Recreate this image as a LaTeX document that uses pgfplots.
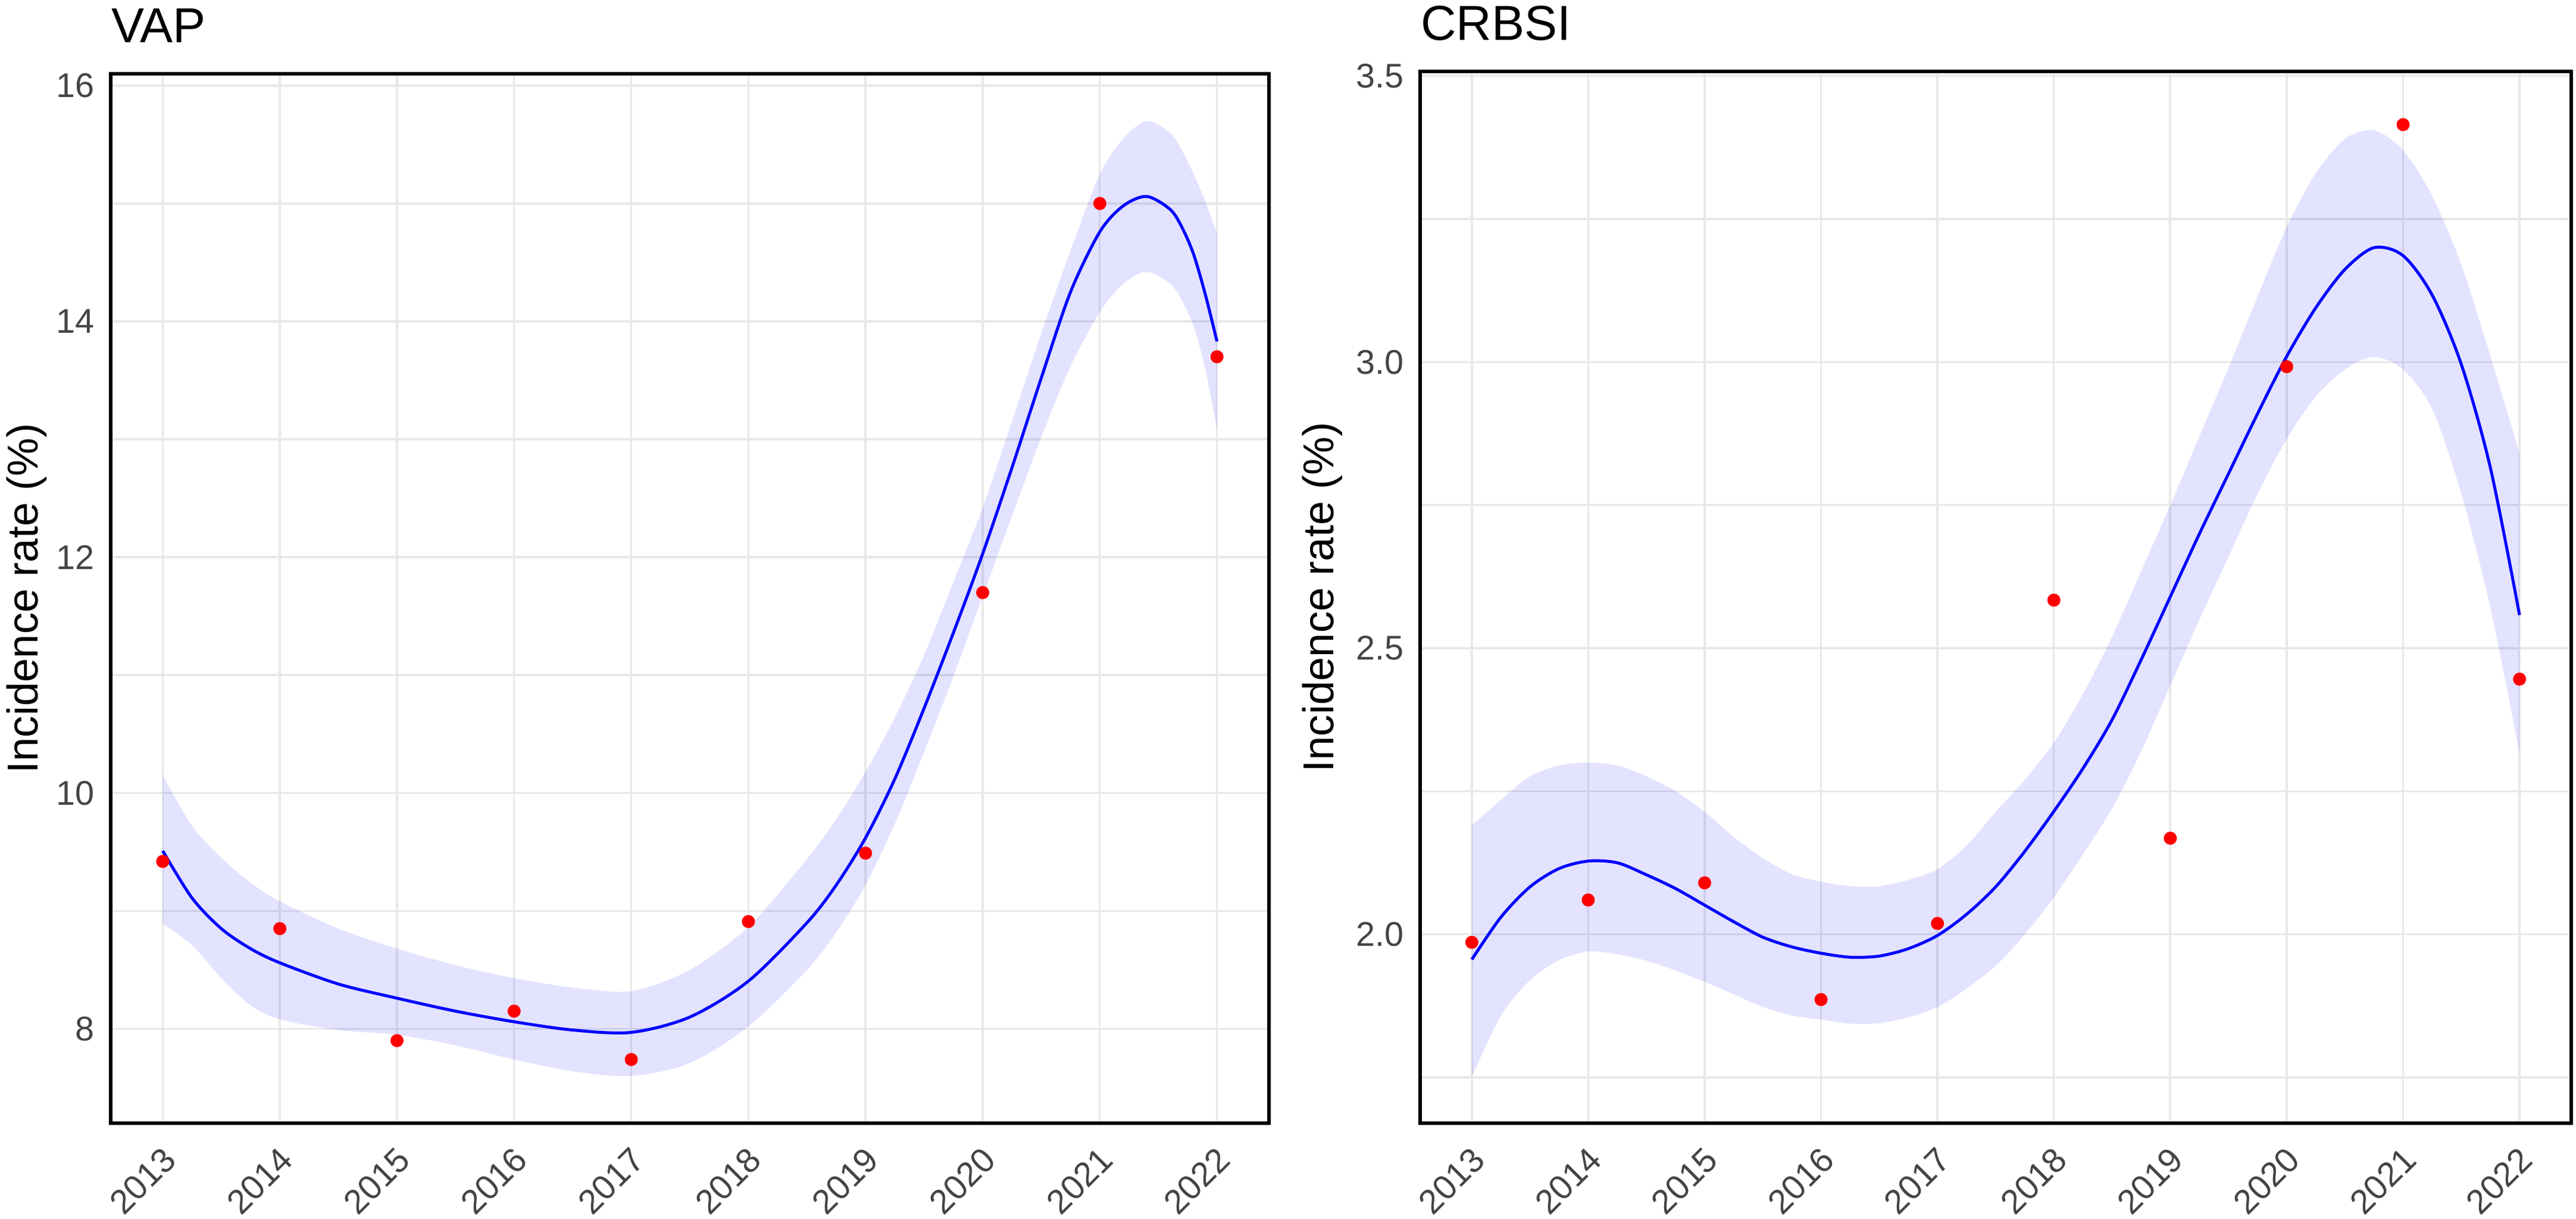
\documentclass[border=0pt]{standalone}
\usepackage{pgfplots}
\pgfplotsset{compat=1.18}
\usepackage{pgfplotstable}
\usepgfplotslibrary{fillbetween}
\usepackage{fontspec}
\setmainfont{Liberation Sans}

\pgfplotstableread{
x fit lo hi
2013 9.51 8.89 10.15
2013.25 9.11 8.71 9.72
2013.5 8.85 8.43 9.45
2013.75 8.68 8.20 9.24
2014 8.56 8.08 9.08
2014.5 8.38 7.99 8.85
2015 8.26 7.95 8.68
2015.5 8.15 7.86 8.54
2016 8.06 7.74 8.43
2016.5 7.99 7.64 8.35
2017 7.97 7.60 8.32
2017.5 8.10 7.71 8.50
2018 8.405 8.02 8.865
2018.5 8.90 8.50 9.44
2018.75 9.22 8.82 9.78
2019 9.62 9.22 10.18
2019.25 10.12 9.74 10.64
2019.5 10.72 10.35 11.17
2019.75 11.36 10.99 11.79
2020 12.03 11.67 12.42
2020.25 12.76 12.35 13.15
2020.5 13.52 13.02 13.90
2020.75 14.25 13.62 14.60
2021 14.76 14.08 15.25
2021.2 14.98 14.32 15.55
2021.4 15.06 14.42 15.70
2021.6 14.95 14.32 15.60
2021.7 14.80 14.18 15.45
2021.8 14.57 13.96 15.25
2021.9 14.23 13.60 15.02
2022 13.83 13.08 14.74
}\vapfit

\pgfplotstableread{
x y
2013 9.42
2014 8.85
2015 7.90
2016 8.15
2017 7.74
2018 8.91
2019 9.49
2020 11.70
2021 15.00
2022 13.70
}\vappts

\pgfplotstableread{
x fit lo hi
2013 1.956 1.751 2.190
2013.25 2.030 1.858 2.235
2013.5 2.083 1.920 2.276
2013.75 2.115 1.955 2.295
2014 2.128 1.970 2.300
2014.25 2.125 1.965 2.295
2014.5 2.104 1.954 2.276
2014.75 2.080 1.937 2.250
2015 2.051 1.917 2.214
2015.25 2.022 1.895 2.170
2015.5 1.995 1.873 2.133
2015.75 1.978 1.858 2.105
2016 1.967 1.851 2.092
2016.25 1.960 1.844 2.084
2016.5 1.962 1.845 2.084
2016.75 1.975 1.855 2.095
2017 1.998 1.873 2.114
2017.25 2.035 1.905 2.155
2017.5 2.083 1.945 2.214
2017.75 2.145 2.000 2.270
2018 2.215 2.065 2.335
2018.25 2.290 2.140 2.420
2018.5 2.375 2.220 2.520
2018.75 2.480 2.320 2.635
2019 2.590 2.435 2.750
2019.25 2.700 2.550 2.870
2019.5 2.805 2.660 2.990
2019.75 2.910 2.770 3.115
2020 3.010 2.866 3.236
2020.25 3.095 2.940 3.330
2020.5 3.162 2.987 3.390
2020.75 3.200 3.009 3.405
2021 3.186 2.987 3.370
2021.25 3.117 2.918 3.290
2021.5 2.996 2.770 3.170
2021.75 2.815 2.570 3.010
2022 2.558 2.316 2.840
}\crbfit

\pgfplotstableread{
x y
2013 1.986
2014 2.060
2015 2.090
2016 1.886
2017 2.019
2018 2.584
2019 2.168
2020 2.992
2021 3.415
2022 2.446
}\crbpts

\definecolor{bandblue}{RGB}{0,0,255}
\definecolor{gridgray}{RGB}{232,232,232}
\definecolor{tickgray}{RGB}{68,68,68}

\pgfplotsset{
  myaxis/.style={
    scale only axis,
    anchor=south west,
    xmin=2012.556, xmax=2022.444,
    xtick={2013,2014,...,2022},
    /pgf/number format/1000 sep={},
    /pgf/number format/assume math mode=true,
    grid=both,
    major grid style={draw=gridgray, line width=0.7pt},
    minor grid style={draw=gridgray, line width=0.7pt},
    major tick length=0pt, minor tick length=0pt,
    axis line style={line width=1.2pt, black},
    ticklabel style={font=\fontsize{11.5}{11.5}\selectfont, color=tickgray},
    yticklabel style={inner sep=0pt, xshift=-5.4pt},
    xticklabel style={xshift=2.4pt, yshift=-10.2pt, rotate=45, anchor=east, inner sep=0pt},
    ylabel={Incidence rate (\%)},
    label style={font=\fontsize{14.5}{14.5}\selectfont},
    title style={at={(axis description cs:0,1)}, anchor=base west, yshift=4.5pt, inner sep=0pt, font=\fontsize{16.5}{16.5}\selectfont},
    clip=true,
  },
  band/.style={draw=none, fill=bandblue, fill opacity=0.11},
  fitline/.style={blue, line width=1.0pt, smooth, no markers},
  dots/.style={only marks, mark=*, mark size=2pt, color=red, mark options={draw=red, fill=red}},
}

\begin{document}
\begin{tikzpicture}

\begin{axis}[myaxis,
  at={(37.2pt,32.2pt)}, width=389.2pt, height=352.6pt,
  ymin=7.2, ymax=16.1,
  ytick={8,10,12,14,16}, minor ytick={9,11,13,15},
  title={VAP},
  ylabel style={at={(axis description cs:0,0.5)}, anchor=center, yshift=28.2pt},
]
\addplot[draw=none, smooth, name path=vhi, forget plot] table[x=x, y=hi] {\vapfit};
\addplot[draw=none, smooth, name path=vlo, forget plot] table[x=x, y=lo] {\vapfit};
\addplot[band] fill between[of=vhi and vlo];
\addplot[fitline] table[x=x, y=fit] {\vapfit};
\addplot[dots] table[x=x, y=y] {\vappts};
\end{axis}

\begin{axis}[myaxis,
  at={(477.2pt,32.2pt)}, width=386.8pt, height=353.4pt,
  ymin=1.67, ymax=3.508,
  ytick={2.0,2.5,3.0,3.5}, minor ytick={1.75,2.25,2.75,3.25},
  yticklabel style={/pgf/number format/.cd, fixed, fixed zerofill, precision=1},
  title={CRBSI},
  ylabel style={at={(axis description cs:0,0.5)}, anchor=center, yshift=32.8pt},
]
\addplot[draw=none, smooth, name path=chi, forget plot] table[x=x, y=hi] {\crbfit};
\addplot[draw=none, smooth, name path=clo, forget plot] table[x=x, y=lo] {\crbfit};
\addplot[band] fill between[of=chi and clo];
\addplot[fitline] table[x=x, y=fit] {\crbfit};
\addplot[dots] table[x=x, y=y] {\crbpts};
\end{axis}

\pgfresetboundingbox
\path[use as bounding box] (0,0) rectangle (865.6pt,409.6pt);
\end{tikzpicture}
\end{document}
